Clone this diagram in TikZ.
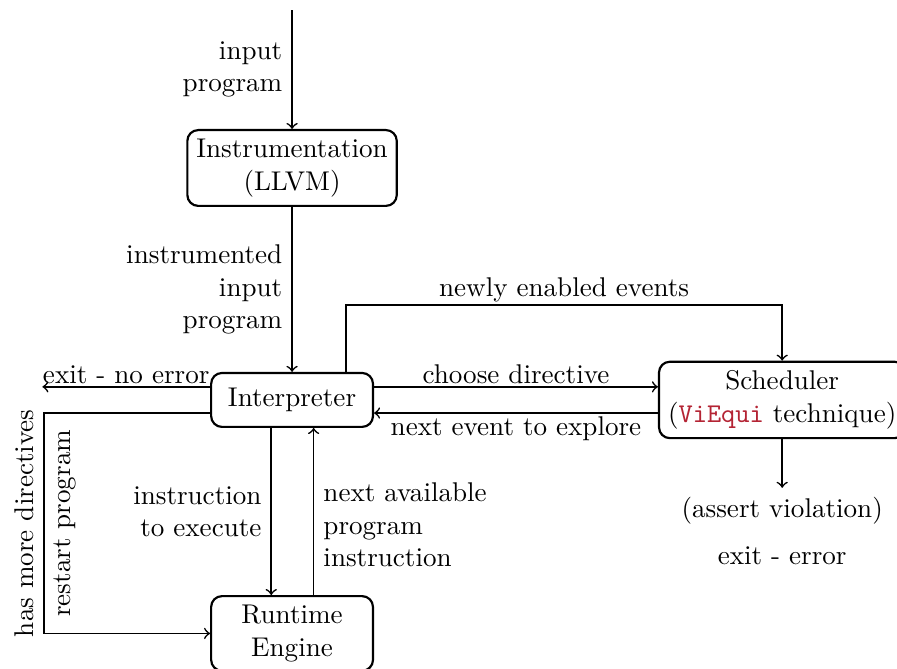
\documentclass[tikz,border=0pt]{standalone}
\usepackage{amsmath, amssymb}
\usepackage{xcolor}
\definecolor{kodemerah}{RGB}{180,36,52}

\begin{document}
\begin{tikzpicture}[
  blok/.style={draw, thick, rounded corners=4pt, align=center,
    minimum width=2.1cm, minimum height=0.7cm},
  panah/.style={->, semithick},
  ket/.style={inner sep=1pt}
]
\useasboundingbox (-3.79,-3.48) rectangle (7.85,5.19);

% geser panah
\def\d{0.17}

% --- kotak ---
\node[blok] (instr) at (0,3.01) {Instrumentation\\(LLVM)};
\node[blok] (interp) at (0,0) {Interpreter};
\node[blok] (runtime) at (0,-3.03) {Runtime\\Engine};
\node[blok] (sched) at (6.36,0) {Scheduler\\(\textcolor{kodemerah}{\texttt{ViEqui}} technique)};

\node (assert) at (6.36,-1.44) {(assert violation)};
\node (exiterr) at (6.36,-2.02) {exit - error};

\coordinate (start) at (0,5.06);
\coordinate (noerr) at (-3.24,\d);
\coordinate (belok) at (-3.22,-\d);
\coordinate (atas) at (0.7,1.23);

% --- panah ---
\draw[panah] (start) -- node[left, align=right] {input\\program} (instr);
\draw[panah] (instr) -- node[left, align=right] {instrumented\\input\\program} (interp);

\draw[panah] ([yshift=\d cm]interp.east) -- node[ket, above] {choose directive} ([yshift=\d cm]sched.west);
\draw[panah] ([yshift=-\d cm]sched.west) -- node[ket, below] {next event to explore} ([yshift=-\d cm]interp.east);
\draw[panah] (interp.north -| atas) -- (atas) -| node[ket, pos=0.25, above] {newly enabled events} (sched.north);

\draw[panah] ([yshift=\d cm]interp.west) -- node[ket, above] {exit - no error} (noerr);
\draw[panah] ([yshift=-\d cm]interp.west) -- (belok)
  |- node[pos=0.25, rotate=90, above] {has more directives}
     node[pos=0.25, rotate=90, below] {restart program} (runtime.west);

\draw[panah] ([xshift=-0.27cm]interp.south) -- node[left, align=right] {instruction\\to execute} ([xshift=-0.27cm]runtime.north);
\draw[panah] ([xshift=0.28cm]runtime.north) -- node[right, align=left, pos=0.42] {next available\\program\\instruction} ([xshift=0.28cm]interp.south);

\draw[panah] (sched) -- (assert);

\end{tikzpicture}
\end{document}
